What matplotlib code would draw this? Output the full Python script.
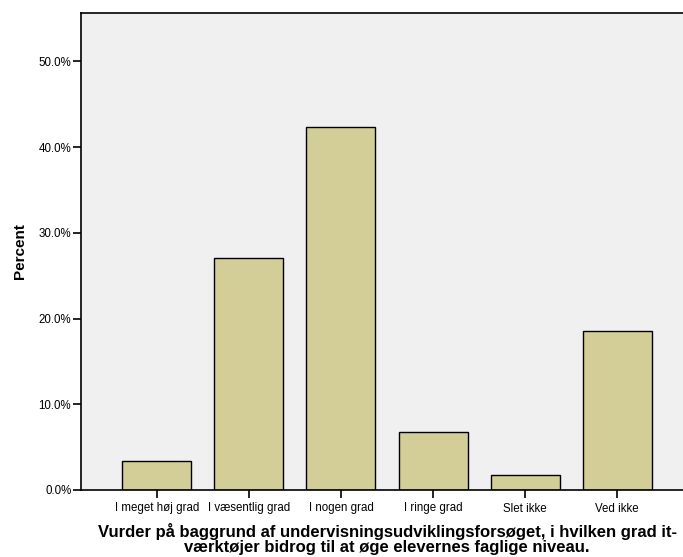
import matplotlib.pyplot as plt
from matplotlib.ticker import FuncFormatter

# Data
categories = ["I meget høj grad", "I væsentlig grad", "I nogen grad",
              "I ringe grad", "Slet ikke", "Ved ikke"]
percent = [3.4, 27.1, 42.4, 6.8, 1.7, 18.6]
yticks = [0, 10, 20, 30, 40, 50]

plt.rcParams['font.family'] = ['Liberation Sans', 'DejaVu Sans']

fig = plt.figure(figsize=(6.83, 5.57), dpi=100)
ax = fig.add_axes([81 / 683, 67 / 557, 612 / 683, 477.5 / 557])
ax.set_facecolor('#f0f0f0')

x = range(len(categories))
ax.bar(x, percent, width=0.75, color='#d3ce97', edgecolor='black', linewidth=1.0)

ax.set_xlim(-0.826, len(categories) - 1 + 0.826)
ax.set_ylim(0, 55.7)
ax.set_xticks(list(x))
ax.set_xticklabels(categories, fontsize=8.3)
ax.set_yticks(yticks)
ax.yaxis.set_major_formatter(FuncFormatter(lambda v, p: "{:.1f}%".format(v)))
ax.tick_params(axis='y', labelsize=8.3, length=6, width=1.2, pad=1, color='black')
ax.tick_params(axis='x', length=6, width=1.2, pad=3, color='black')

for side in ['left', 'bottom', 'top']:
    ax.spines[side].set_linewidth(1.2)
    ax.spines[side].set_color('black')
ax.spines['right'].set_visible(False)

ax.set_ylabel('Percent', fontsize=11, fontweight='bold', labelpad=8)
ax.set_xlabel('Vurder på baggrund af undervisningsudviklingsforsøget, i hvilken grad it-\n'
              'værktøjer bidrog til at øge elevernes faglige niveau.',
              fontsize=12, fontweight='bold', labelpad=6, linespacing=1.0)

fig.savefig('out.png', dpi=100)
